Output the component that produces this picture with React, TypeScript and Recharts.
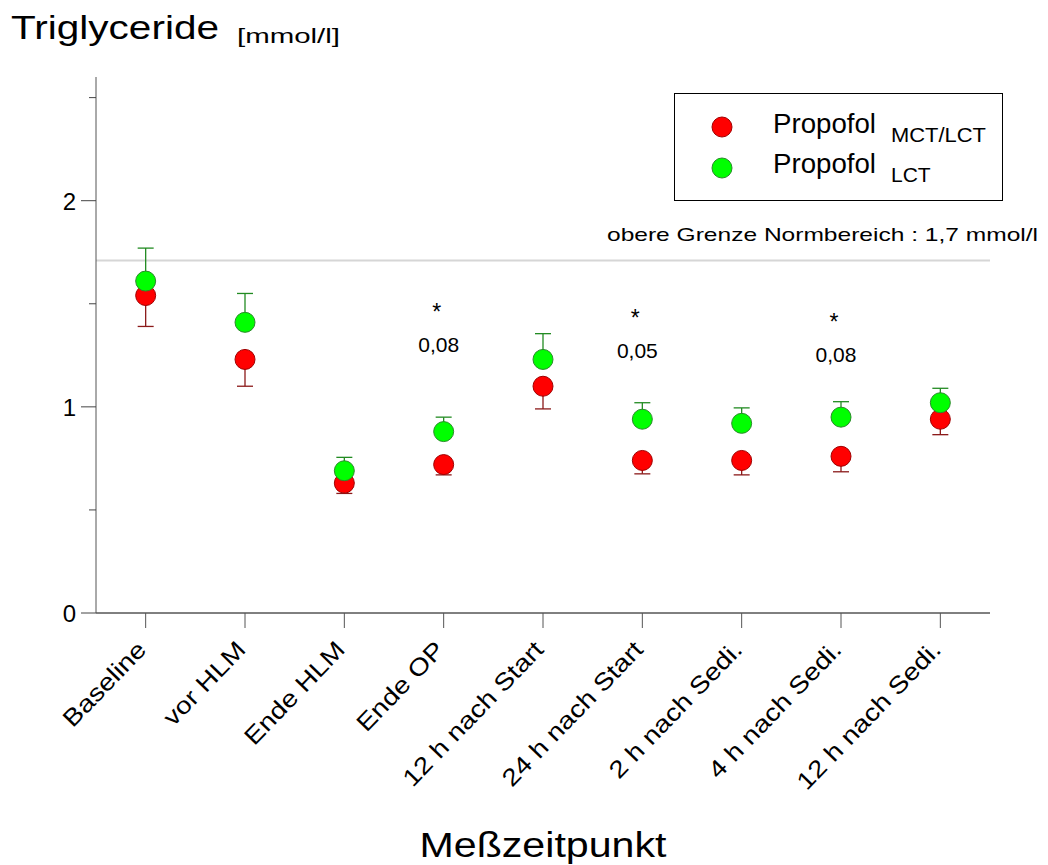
import React from "react";
import {
  ComposedChart,
  Scatter,
  ErrorBar,
  XAxis,
  YAxis,
  ReferenceLine,
  ReferenceDot,
  Legend,
} from "recharts";

// Messzeitpunkte
const categories = [
  "Baseline",
  "vor HLM",
  "Ende HLM",
  "Ende OP",
  "12 h nach Start",
  "24 h nach Start",
  "2 h nach Sedi.",
  "4 h nach Sedi.",
  "12 h nach Sedi.",
];

// Propofol MCT/LCT (rot), nur untere Fehlerbalken
const mctLct = [1.54, 1.23, 0.63, 0.72, 1.1, 0.74, 0.74, 0.76, 0.94];
const mctLctSd = [0.15, 0.13, 0.05, 0.05, 0.11, 0.065, 0.07, 0.075, 0.075];

// Propofol LCT (gruen), nur obere Fehlerbalken
const lct = [1.61, 1.41, 0.69, 0.88, 1.23, 0.94, 0.92, 0.95, 1.02];
const lctSd = [0.16, 0.14, 0.065, 0.07, 0.125, 0.08, 0.075, 0.075, 0.07];

const yTicks = [0, 0.5, 1, 1.5, 2, 2.5];
const normLimit = 1.71;

// Signifikanz-Markierungen
const sigCategories = ["Ende OP", "24 h nach Start", "4 h nach Sedi."];
const sigLevels = [1.49, 1.46, 1.44];
const sigP = ["0,08", "0,05", "0,08"];

const FONT = '"Liberation Sans", Arial, Helvetica, sans-serif';

const data = categories.map((name, i) => ({
  name,
  mct: mctLct[i],
  mctErr: [mctLctSd[i], 0],
  lct: lct[i],
  lctErr: [0, lctSd[i]],
}));

const YTick = (props: any) => {
  const { x, y, payload } = props;
  const major = Number.isInteger(payload.value);
  return (
    <g>
      <line x1={x - (major ? 15 : 7)} y1={y} x2={x} y2={y} stroke="#444" />
      {major && (
        <text
          x={x - 20}
          y={y + 9}
          textAnchor="end"
          fontSize={24}
          fontFamily={FONT}
          fill="#000"
        >
          {payload.value}
        </text>
      )}
    </g>
  );
};

const XTick = (props: any) => {
  const { x, y, payload } = props;
  return (
    <g>
      <line x1={x} y1={y} x2={x} y2={y + 15} stroke="#555" />
      <text
        transform={`translate(${x + 2},${y + 38}) rotate(-46) scale(1.17,1)`}
        textAnchor="end"
        fontSize={24}
        fontFamily={FONT}
        fill="#000"
      >
        {payload.value}
      </text>
    </g>
  );
};

const Title = () => (
  <g fontFamily={FONT} fill="#000">
    <text x={11} y={39} fontSize={33} textLength={208} lengthAdjust="spacingAndGlyphs">
      Triglyceride
    </text>
    <text x={237} y={43} fontSize={21} textLength={103} lengthAdjust="spacingAndGlyphs">
      [mmol/l]
    </text>
  </g>
);

const XLabel = (props: any) => {
  const vb = props.viewBox || { x: 96, width: 891, y: 613, height: 252 };
  return (
    <text
      x={vb.x + vb.width / 2}
      y={vb.y + vb.height - 8}
      textAnchor="middle"
      fontSize={35}
      fontFamily={FONT}
      fill="#000"
      textLength={247}
      lengthAdjust="spacingAndGlyphs"
    >
      Meßzeitpunkt
    </text>
  );
};

const NormLabel = (props: any) => {
  const vb = props.viewBox || { x: 96, y: 260 };
  return (
    <text
      x={vb.x + 511}
      y={vb.y - 19}
      fontSize={19}
      fontFamily={FONT}
      fill="#000"
      textLength={431}
      lengthAdjust="spacingAndGlyphs"
    >
      obere Grenze Normbereich : 1,7 mmol/l
    </text>
  );
};

const SigLabel = (props: any) => {
  const { viewBox, text } = props;
  const cx = viewBox.x + viewBox.width / 2 - 7;
  const cy = viewBox.y + viewBox.height / 2;
  return (
    <g fontFamily={FONT} fill="#000" textAnchor="middle">
      <text x={cx} y={cy + 14} fontSize={23}>
        *
      </text>
      <text x={cx + 2} y={cy + 46} fontSize={21}>
        {text}
      </text>
    </g>
  );
};

const LegendBox = () => (
  <svg width={329} height={108} style={{ display: "block" }}>
    <rect x={0.5} y={0.5} width={328} height={107} fill="#fff" stroke="#000" />
    <circle cx={48} cy={34} r={10} fill="#ff0000" stroke="#a00000" />
    <circle cx={48} cy={75} r={10} fill="#00ff00" stroke="#2a8a2a" />
    <g fontFamily={FONT} fill="#000">
      <text x={99} y={40} fontSize={27} textLength={103} lengthAdjust="spacingAndGlyphs">
        Propofol
      </text>
      <text x={217} y={49} fontSize={21} textLength={95} lengthAdjust="spacingAndGlyphs">
        MCT/LCT
      </text>
      <text x={99} y={80} fontSize={27} textLength={103} lengthAdjust="spacingAndGlyphs">
        Propofol
      </text>
      <text x={217} y={89} fontSize={21}>
        LCT
      </text>
    </g>
  </svg>
);

const dot = (fill: string, stroke: string) => (props: any) => {
  const { cx, cy } = props;
  if (cx == null || cy == null) return <g />;
  return <circle cx={cx} cy={cy} r={10} fill={fill} stroke={stroke} strokeWidth={1} />;
};

export default function App() {
  return (
    <div style={{ position: "absolute", left: 0, top: 0, background: "#fff" }}>
      <ComposedChart
        width={1048}
        height={865}
        data={data}
        margin={{ top: 77, right: 58, bottom: 0, left: 0 }}
      >
        <XAxis
          dataKey="name"
          type="category"
          scale="band"
          interval={0}
          height={252}
          tickSize={0}
          tickMargin={0}
          tickLine={false}
          axisLine={{ stroke: "#000" }}
          tick={<XTick />}
          label={<XLabel />}
        />
        <YAxis
          type="number"
          domain={[0, 2.6]}
          ticks={yTicks}
          interval={0}
          width={96}
          tickSize={0}
          tickMargin={0}
          tickLine={false}
          axisLine={{ stroke: "#555" }}
          tick={<YTick />}
          label={<Title />}
          allowDataOverflow
        />
        <ReferenceLine
          y={normLimit}
          stroke="#d6d6d6"
          strokeWidth={2}
          label={<NormLabel />}
        />
        <Scatter
          dataKey="mct"
          name="Propofol MCT/LCT"
          shape={dot("#ff0000", "#a00000")}
          isAnimationActive={false}
        >
          <ErrorBar
            dataKey="mctErr"
            direction="y"
            width={8}
            stroke="#8b1a1a"
            strokeWidth={1.3}
            isAnimationActive={false}
          />
        </Scatter>
        <Scatter
          dataKey="lct"
          name="Propofol LCT"
          shape={dot("#00ff00", "#2a8a2a")}
          isAnimationActive={false}
        >
          <ErrorBar
            dataKey="lctErr"
            direction="y"
            width={8}
            stroke="#228b22"
            strokeWidth={1.3}
            isAnimationActive={false}
          />
        </Scatter>
        {sigCategories.map((cat, i) => (
          <ReferenceDot
            key={cat}
            x={cat}
            y={sigLevels[i]}
            r={1}
            fill="none"
            stroke="none"
            ifOverflow="visible"
            label={<SigLabel text={sigP[i]} />}
          />
        ))}
        <Legend
          layout="horizontal"
          verticalAlign="middle"
          align="center"
          wrapperStyle={{ left: 674, top: 93, width: 329, height: 108 }}
          content={() => <LegendBox />}
        />
      </ComposedChart>
    </div>
  );
}
